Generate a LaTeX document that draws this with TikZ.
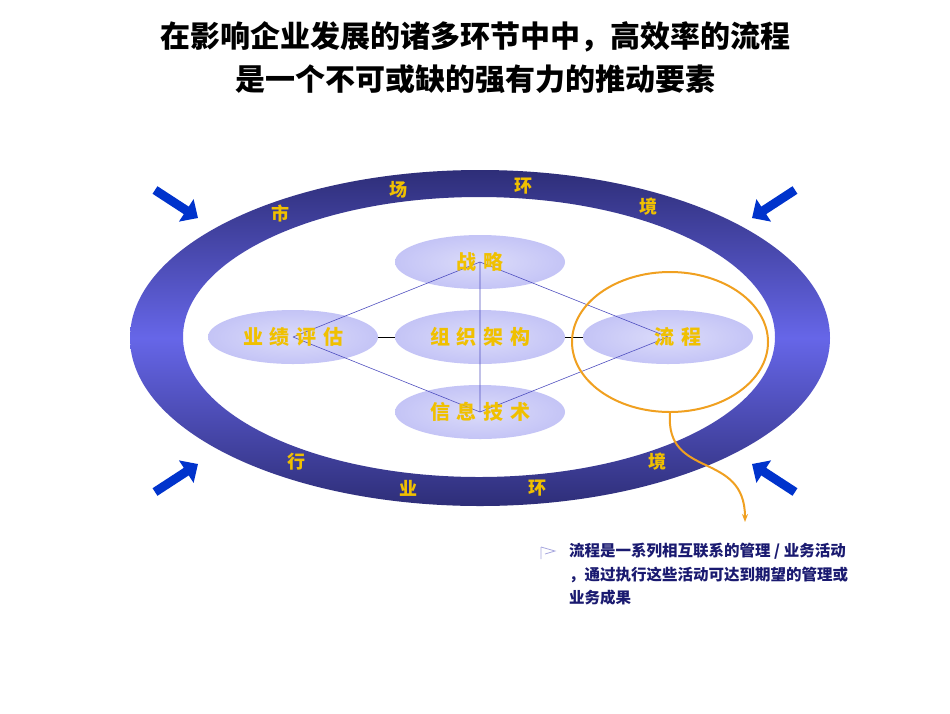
\documentclass[tikz,border=0pt]{standalone}
\usepackage{fontspec}
\setmainfont{Noto Sans CJK SC}
\usetikzlibrary{arrows.meta,shapes.geometric}
\definecolor{gold}{HTML}{F0C000}
\definecolor{navy}{HTML}{1A1A70}
\definecolor{ringdark}{HTML}{2E2E78}
\definecolor{ringlight}{HTML}{6666E8}
\definecolor{blobc}{HTML}{C4C4F6}
\definecolor{line}{HTML}{5050C0}
\definecolor{arr}{HTML}{0033CC}
\definecolor{orng}{HTML}{F0A020}
\tikzset{
 blob/.style={ellipse,minimum width=170pt,minimum height=54pt,inner color=white!40!blobc,outer color=blobc,draw=none},
 lbl/.style={font=\bfseries\fontsize{20}{22}\selectfont,text=gold},
 ringt/.style={font=\bfseries\fontsize{18}{20}\selectfont,text=gold},
 conn/.style={draw=line,line width=0.6pt},
 blk/.style={draw=black,line width=1pt},
 inarrow/.style={draw=arr,line width=9pt,-{Triangle[length=14pt,width=26pt]}},
}
\begin{document}
\begin{tikzpicture}[x=1pt,y=-1pt]
\useasboundingbox (0,0) rectangle (950,713);
\fill[white] (0,0) rectangle (950,713);
\node[font=\bfseries\fontsize{30}{34}\selectfont] (t1) at (475,37) {在影响企业发展的诸多环节中中，高效率的流程};
\node[font=\bfseries\fontsize{30}{34}\selectfont] (t2) at (475,79) {是一个不可或缺的强有力的推动要素};
\shade[even odd rule,top color=ringdark,bottom color=ringdark,middle color=ringlight]
 (480,338) ellipse [x radius=350,y radius=168] (479,337) ellipse [x radius=296,y radius=140];
\foreach \t/\x/\y in {市/280/213,场/398/190,环/523/186,境/648/207,行/296/462,业/408/488,环/537/488,境/657/462}
 \node[ringt] at (\x,\y) {\t};
\coordinate (a1s) at (155,190); \coordinate (a1e) at (198,218);
\coordinate (a2s) at (795,190); \coordinate (a2e) at (752,218);
\coordinate (a3s) at (155,492); \coordinate (a3e) at (198,464);
\coordinate (a4s) at (795,492); \coordinate (a4e) at (752,464);
\draw[inarrow] (a1s)--(a1e); \draw[inarrow] (a2s)--(a2e);
\draw[inarrow] (a3s)--(a3e); \draw[inarrow] (a4s)--(a4e);
\node[blob] (s) at (480,262) {};
\node[blob] (p) at (293,337) {};
\node[blob] (o) at (480,337) {};
\node[blob] (f) at (668,337) {};
\node[blob] (i) at (480,412) {};
\draw[conn] (s.center)--(p.center) (s.center)--(f.center) (p.center)--(i.center) (i.center)--(f.center) (s.center)--(i.center);
\draw[blk] (p.east)--(o.west); \draw[blk] (o.east)--(f.west);
\node[lbl] at (s) {战\,\,略};
\node[lbl] at (p) {业\,\,绩\,\,评\,\,估};
\node[lbl] at (o) {组\,\,织\,\,架\,\,构};
\node[lbl] at ([xshift=10]f.center) {流\,\,程};
\node[lbl] at (i) {信\,\,息\,\,技\,\,术};
\node[ellipse,draw=orng,line width=2pt,minimum width=196pt,minimum height=140pt] (oc) at (670,342) {};
\coordinate (oe) at (745,522);
\draw[orng,line width=2pt,-{Stealth[length=8pt]}] (oc.south) .. controls (665,480) and (745,450) .. (oe);
\draw[line!50!white,line width=0.8pt] (541,547)--(541,559) (541,547)--(555,551)--(545,554);
\node[anchor=north west,align=left,text=navy,font=\bfseries\fontsize{15.5}{23.5}\selectfont,inner sep=0pt] (txt) at (569,543) {流程是一系列相互联系的管理 / 业务活动\\，通过执行这些活动可达到期望的管理或\\业务成果};
\end{tikzpicture}
\end{document}
